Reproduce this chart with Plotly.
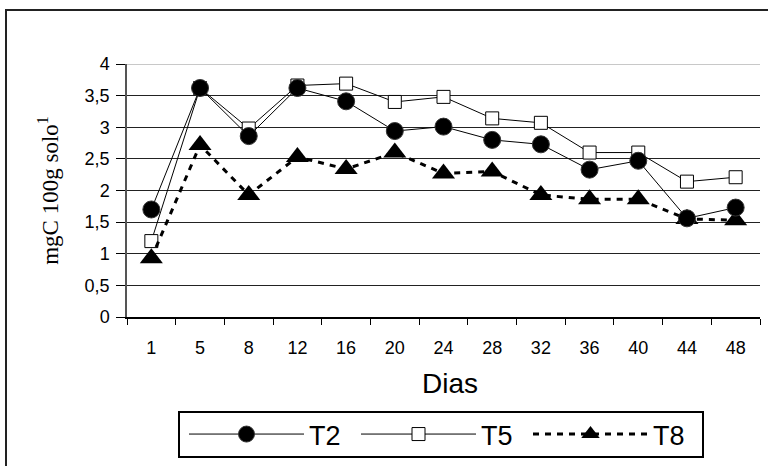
import plotly.graph_objects as go

# Days of incubation (categorical x axis)
dias = ["1", "5", "8", "12", "16", "20", "24", "28", "32", "36", "40", "44", "48"]

# Carbon released, mgC 100g solo^-1
t2 = [1.70, 3.62, 2.86, 3.62, 3.41, 2.94, 3.01, 2.80, 2.73, 2.33, 2.47, 1.56, 1.73]
t5 = [1.20, 3.62, 2.98, 3.66, 3.69, 3.40, 3.48, 3.14, 3.07, 2.60, 2.60, 2.14, 2.21]
t8 = [0.93, 2.72, 1.93, 2.53, 2.34, 2.60, 2.27, 2.30, 1.93, 1.86, 1.86, 1.55, 1.53]

y_ticks = [0, 0.5, 1, 1.5, 2, 2.5, 3, 3.5, 4]
y_ticktext = ["0", "0,5", "1", "1,5", "2", "2,5", "3", "3,5", "4"]

W, H = 768, 466
L, R, T, B = 127, 8, 64, 149
pw, ph = W - L - R, H - T - B


def px_x(p):
    return (p - L) / pw


def px_y(p):
    return (H - B - p) / ph


fig = go.Figure()

fig.add_trace(go.Scatter(
    x=dias, y=t5, name="T5", mode="lines+markers", legendrank=2,
    line=dict(color="black", width=1),
    marker=dict(symbol="square", size=13, color="white",
                line=dict(color="black", width=1)),
))
fig.add_trace(go.Scatter(
    x=dias, y=t8, name="T8", mode="lines+markers", legendrank=3,
    line=dict(color="black", width=3, dash="6px,6px"),
    marker=dict(symbol="triangle-up", size=20, color="black",
                line=dict(color="black", width=0)),
))
fig.add_trace(go.Scatter(
    x=dias, y=t2, name="T2", mode="lines+markers", legendrank=1,
    line=dict(color="black", width=1),
    marker=dict(symbol="circle", size=17, color="black",
                line=dict(color="#333", width=1)),
))

fig.update_layout(
    width=W, height=H,
    margin=dict(l=L, r=R, t=T, b=B, autoexpand=False),
    paper_bgcolor="white", plot_bgcolor="white",
    font=dict(family="Liberation Sans, Arial, sans-serif", color="black"),
    showlegend=True,
    legend=dict(
        orientation="h", x=px_x(184), y=px_y(459),
        xanchor="left", yanchor="bottom",
        font=dict(size=27, family="Liberation Sans, Arial, sans-serif"),
        borderwidth=0, bgcolor="rgba(0,0,0,0)",
        itemwidth=115, entrywidth=42, traceorder="normal",
    ),
    xaxis=dict(
        type="category", categoryorder="array", categoryarray=dias,
        range=[-0.5, len(dias) - 0.5],
        showline=True, linecolor="black", linewidth=1.5,
        ticks="outside", tickson="boundaries", ticklen=6, tickcolor="black",
        showgrid=False, zeroline=False,
        tickfont=dict(size=18), ticklabelstandoff=14,
    ),
    yaxis=dict(
        range=[0, 4], tickvals=y_ticks, ticktext=y_ticktext,
        showline=True, linecolor="#555", linewidth=1.5,
        ticks="outside", ticklen=9, tickcolor="black",
        showgrid=True, gridcolor="#222", gridwidth=1,
        zeroline=False,
        tickfont=dict(size=18), ticklabelstandoff=3,
        title=dict(text="mgC 100g solo<sup>1</sup>", standoff=20,
                   font=dict(family="Liberation Serif, Times New Roman, serif",
                             size=23)),
    ),
    annotations=[dict(
        text="Dias", xref="paper", yref="paper",
        x=px_x(450), y=px_y(383), xanchor="center", yanchor="middle",
        showarrow=False, font=dict(size=28),
    )],
    shapes=[
        # light top gridline at y = 4
        dict(type="line", xref="paper", yref="y", x0=0, x1=1, y0=4, y1=4,
             line=dict(color="#c8c8c8", width=2), layer="above"),
        # outer chart frame
        dict(type="rect", xref="paper", yref="paper",
             x0=px_x(6), x1=px_x(775), y0=px_y(10), y1=px_y(475),
             line=dict(color="#222", width=2), layer="below"),
        # legend frame
        dict(type="rect", xref="paper", yref="paper",
             x0=px_x(179), x1=px_x(703), y0=px_y(412), y1=px_y(457),
             line=dict(color="black", width=2), layer="above"),
    ],
)

fig.write_html("out.html")
